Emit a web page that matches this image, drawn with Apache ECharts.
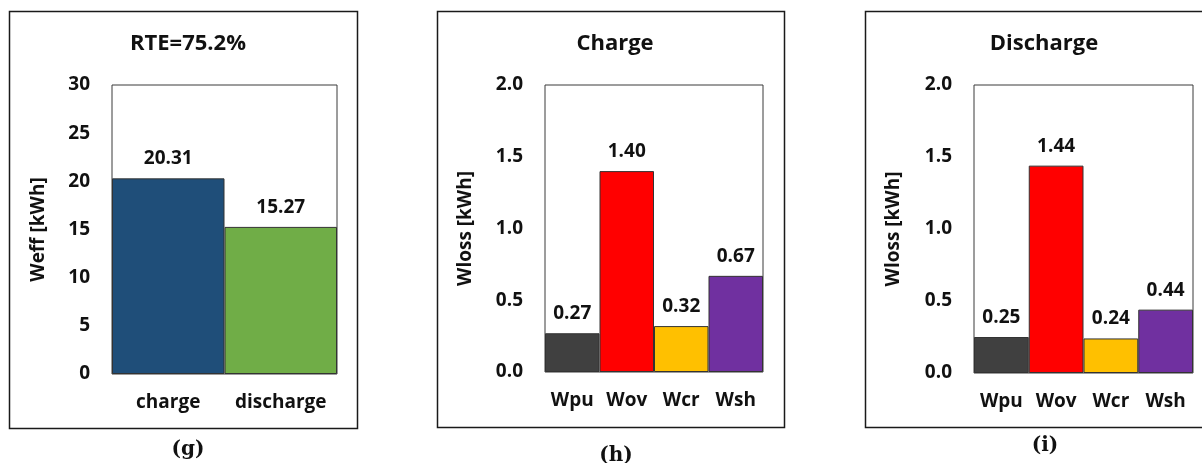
<!DOCTYPE html>
<html>
<head>
<meta charset="utf-8">
<script src="https://cdn.jsdelivr.net/npm/echarts@6/dist/echarts.min.js"></script>
<style>
html,body{margin:0;padding:0;background:#fff;}
#c{width:1202px;height:463px;}
</style>
</head>
<body>
<div id="c"></div>
<script>
// ---- data ----
const effCategories = ['charge', 'discharge'];
const effValues = [20.31, 15.27];
const effColors = ['#1F4E79', '#70AD47'];
const effTicks = [0, 5, 10, 15, 20, 25, 30];

const lossCategories = ['Wpu', 'Wov', 'Wcr', 'Wsh'];
const lossChargeValues = [0.27, 1.40, 0.32, 0.67];
const lossDischargeValues = [0.25, 1.44, 0.24, 0.44];
const lossColors = ['#404040', '#FF0000', '#FFC000', '#7030A0'];
const lossTicks = [0.0, 0.5, 1.0, 1.5, 2.0];

const panelTitles = ['RTE=75.2%', 'Charge', 'Discharge'];
const captions = ['(g)', '(h)', '(i)'];

// ---- chart ----
const FONT = 'Open Sans';
const FS = 19;
const chart = echarts.init(document.getElementById('c'), null, {renderer: 'canvas'});

const grids = [
  {left: 112, top: 85, width: 225, height: 289},
  {left: 545, top: 85, width: 218, height: 287},
  {left: 974, top: 85, width: 219, height: 288}
];
const nameGaps = [64, 70, 71];
const axisNames = ['Weff [kWh]', 'Wloss [kWh]', 'Wloss [kWh]'];
const yMax = [effTicks[effTicks.length - 1], lossTicks[lossTicks.length - 1], lossTicks[lossTicks.length - 1]];
const yInt = [effTicks[1] - effTicks[0], lossTicks[1] - lossTicks[0], lossTicks[1] - lossTicks[0]];
const yFmt = [v => String(v), v => v.toFixed(1), v => v.toFixed(1)];
const cats = [effCategories, lossCategories, lossCategories];
const vals = [effValues, lossChargeValues, lossDischargeValues];
const cols = [effColors, lossColors, lossColors];
const labelFmt = [p => p.value.toFixed(2), p => p.value.toFixed(2), p => p.value.toFixed(2)];

const titleX = [183, 610, 1039];
const captionX = [183, 611, 1040];
const captionY = [435, 441, 431];

const option = {
  backgroundColor: '#fff',
  animation: false,
  title: [],
  grid: grids.map(g => Object.assign({show: true, borderColor: '#3a3a3a', borderWidth: 1, backgroundColor: '#fff', containLabel: false}, g)),
  xAxis: [],
  yAxis: [],
  series: [],
  graphic: [
    {type: 'rect', shape: {x: 9.5, y: 11.5, width: 348, height: 417}, style: {fill: null, stroke: '#1a1a1a', lineWidth: 1.5}, z: -1},
    {type: 'rect', shape: {x: 437.5, y: 11.5, width: 347, height: 416}, style: {fill: null, stroke: '#1a1a1a', lineWidth: 1.5}, z: -1},
    {type: 'rect', shape: {x: 865.5, y: 11.5, width: 345, height: 416}, style: {fill: null, stroke: '#1a1a1a', lineWidth: 1.5}, z: -1}
  ]
};

for (let i = 0; i < 3; i++) {
  option.title.push({
    text: panelTitles[i], left: titleX[i], top: 28, textAlign: 'center',
    textStyle: {fontFamily: FONT, fontWeight: 'bold', fontSize: 22, color: '#111'}
  });
  option.title.push({
    text: captions[i], left: captionX[i], top: captionY[i], textAlign: 'center',
    textStyle: {fontFamily: 'DejaVu Serif', fontWeight: 'bold', fontSize: 20, color: '#111'}
  });
  option.xAxis.push({
    type: 'category', gridIndex: i, data: cats[i],
    axisLine: {show: false}, axisTick: {show: false},
    axisLabel: {interval: 0, hideOverlap: false, margin: 19, fontFamily: FONT, fontWeight: 'bold', fontSize: FS, color: '#111'}
  });
  option.yAxis.push({
    type: 'value', gridIndex: i, min: 0, max: yMax[i], interval: yInt[i],
    name: axisNames[i], nameLocation: 'middle', nameGap: nameGaps[i],
    nameTextStyle: {fontFamily: FONT, fontWeight: 'bold', fontSize: FS, color: '#111'},
    axisLine: {show: false}, axisTick: {show: false}, splitLine: {show: false},
    axisLabel: {margin: 22, formatter: yFmt[i], fontFamily: FONT, fontWeight: 'bold', fontSize: FS, color: '#111'}
  });
  option.series.push({
    type: 'bar', xAxisIndex: i, yAxisIndex: i,
    barCategoryGap: 0, barWidth: '100%',
    data: vals[i].map((v, k) => ({value: v, itemStyle: {color: cols[i][k]}})),
    itemStyle: {borderColor: '#333', borderWidth: 1},
    label: {show: true, position: 'top', distance: 10, formatter: labelFmt[i],
      fontFamily: FONT, fontWeight: 'bold', fontSize: FS, color: '#111'}
  });
}

chart.setOption(option);
</script>
</body>
</html>
